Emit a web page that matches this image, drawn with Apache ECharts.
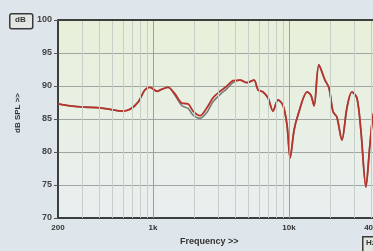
<!DOCTYPE html>
<html>
<head>
<meta charset="utf-8">
<script src="https://cdn.jsdelivr.net/npm/echarts@6/dist/echarts.min.js"></script>
<style>
  html, body { margin: 0; padding: 0; background: #dfe6eb; }
  #chart { width: 373px; height: 251px; }
</style>
</head>
<body>
<div id="chart"></div>
<script>
// frequency points (Hz); the picture is cut off a bit past 40k
var freqs = [200, 245, 316, 408, 500, 590, 680, 780, 870, 950, 1070, 1160, 1290, 1450, 1630, 1810, 1970, 2220, 2490, 2760, 3110, 3500, 3870, 4360, 4910, 5530, 5920, 6440, 7010, 7630, 8300, 9030, 9670, 10200, 10900, 11650, 13600, 14500, 15300, 16600, 18400, 19700, 21100, 22500, 24500, 26700, 29000, 31600, 33800, 36800, 39400, 42200, 46700];
// red trace (dB SPL)
var redDb = [87.3, 87.0, 86.8, 86.7, 86.4, 86.2, 86.5, 87.6, 89.4, 89.8, 89.2, 89.5, 89.8, 88.8, 87.4, 87.3, 86.2, 85.5, 86.7, 88.2, 89.2, 90.0, 90.8, 90.9, 90.5, 90.9, 89.4, 89.1, 88.2, 86.2, 87.9, 87.1, 84.1, 79.1, 83.3, 85.6, 89.1, 88.6, 87.0, 93.2, 90.9, 89.7, 86.1, 85.3, 81.8, 86.7, 89.1, 88.2, 83.3, 74.7, 81.1, 86.1, 86.4];
// grey trace, differs a little in the 1.5k - 4k region
var greyDb = [87.3, 87.0, 86.8, 86.7, 86.4, 86.2, 86.5, 87.6, 89.4, 89.8, 89.2, 89.5, 89.8, 88.6, 87.0, 86.6, 85.6, 85.1, 86.0, 87.6, 88.7, 89.6, 90.5, 90.9, 90.5, 90.9, 89.4, 89.1, 88.2, 86.2, 87.9, 87.1, 84.1, 79.1, 83.3, 85.6, 89.1, 88.6, 87.0, 93.2, 90.9, 89.7, 86.1, 85.3, 81.8, 86.7, 89.1, 88.2, 83.3, 74.7, 81.1, 86.1, 86.4];
var xLabels = [200, 1000, 10000, 40000];
var minorGrid = [300, 400, 500, 600, 700, 800, 900, 2000, 3000, 4000, 5000, 6000, 7000, 8000, 9000, 20000, 30000, 40000];
var majorGrid = [1000, 10000];

var myChart = echarts.init(document.getElementById("chart"));

function pairs(ys) {
  return freqs.map(function(f, i) {
    return [f, ys[i]];
  });
}

function fmtFreq(v) {
  if (v >= 1000) return Math.round(v / 1000) + "k";
  return String(Math.round(v));
}

var labelFont = "Liberation Sans";

var option = {
  backgroundColor: "#dfe6eb",
  animation: false,
  grid: {
    left: 58,
    top: 20,
    right: -11,
    bottom: 33,
    outerBoundsMode: "none",
    show: true,
    borderWidth: 0,
    backgroundColor: {
      type: "linear", x: 0, y: 0, x2: 0, y2: 1,
      colorStops: [
        { offset: 0, color: "#e8f0d9" },
        { offset: 1, color: "#e9eff0" }
      ]
    }
  },
  xAxis: {
    type: "log",
    logBase: 10,
    min: 200,
    max: 50000,
    axisLine: { show: true, lineStyle: { color: "#3c3f3c", width: 2 } },
    axisTick: { show: false },
    splitLine: { show: false },
    axisLabel: {
      customValues: xLabels,
      formatter: fmtFreq,
      color: "#333",
      fontSize: 8,
      fontWeight: "bold",
      fontFamily: labelFont,
      margin: 6
    }
  },
  yAxis: {
    type: "value",
    min: 70,
    max: 100,
    interval: 5,
    axisLine: { show: true, lineStyle: { color: "#3c3f3c", width: 2 } },
    axisTick: { show: true, length: 4, lineStyle: { color: "#555" } },
    splitLine: { show: true, lineStyle: { color: "#9fa69f", width: 1 } },
    axisLabel: {
      color: "#444",
      fontSize: 9,
      fontWeight: "bold",
      fontFamily: labelFont,
      margin: 6
    }
  },
  series: [
    {
      // vertical grid lines
      type: "line",
      data: [],
      z: 1,
      silent: true,
      markLine: {
        silent: true,
        symbol: ["none", "none"],
        label: { show: false },
        lineStyle: { color: "#c7cec7", type: "solid", width: 1 },
        data: minorGrid.map(function(v) { return { xAxis: v }; })
          .concat(majorGrid.map(function(v) {
            return { xAxis: v, lineStyle: { color: "#9aa19a", width: 1 } };
          }))
      }
    },
    {
      type: "line",
      data: pairs(greyDb),
      z: 3,
      showSymbol: false,
      smooth: 0.3,
      lineStyle: { color: "#7b7b7b", width: 1.6 }
    },
    {
      type: "line",
      data: pairs(redDb),
      z: 4,
      showSymbol: false,
      smooth: 0.3,
      lineStyle: { color: "#b8342b", width: 1.8 }
    },
    {
      // top frame line
      type: "line",
      data: [],
      z: 5,
      markLine: {
        silent: true,
        symbol: ["none", "none"],
        label: { show: false },
        lineStyle: { color: "#3c3f3c", type: "solid", width: 2 },
        data: [{ yAxis: 100 }]
      }
    }
  ],
  graphic: [
    {
      type: "rect",
      left: 9, top: 13,
      shape: { width: 23, height: 15, r: 2 },
      style: { fill: "#e4e6e4", stroke: "#3a3a3a", lineWidth: 1.5 }
    },
    {
      type: "text",
      left: 15, top: 16,
      style: { text: "dB", fontSize: 8, fontWeight: "bold", fill: "#333", fontFamily: labelFont }
    },
    {
      type: "text",
      x: 14, y: 133,
      rotation: Math.PI / 2,
      style: { text: "dB SPL >>", fontSize: 8, fontWeight: "bold", fill: "#333", fontFamily: labelFont }
    },
    {
      type: "text",
      left: 180, top: 237,
      style: { text: "Frequency >>", fontSize: 9, fontWeight: "bold", fill: "#333", fontFamily: labelFont }
    },
    {
      type: "rect",
      left: 362, top: 236,
      shape: { width: 20, height: 15 },
      style: { fill: "#e4e6e4", stroke: "#3a3a3a", lineWidth: 1.5 }
    },
    {
      type: "text",
      left: 366, top: 239,
      style: { text: "Hz", fontSize: 8, fontWeight: "bold", fill: "#333", fontFamily: labelFont }
    }
  ]
};

myChart.setOption(option);
</script>
</body>
</html>
